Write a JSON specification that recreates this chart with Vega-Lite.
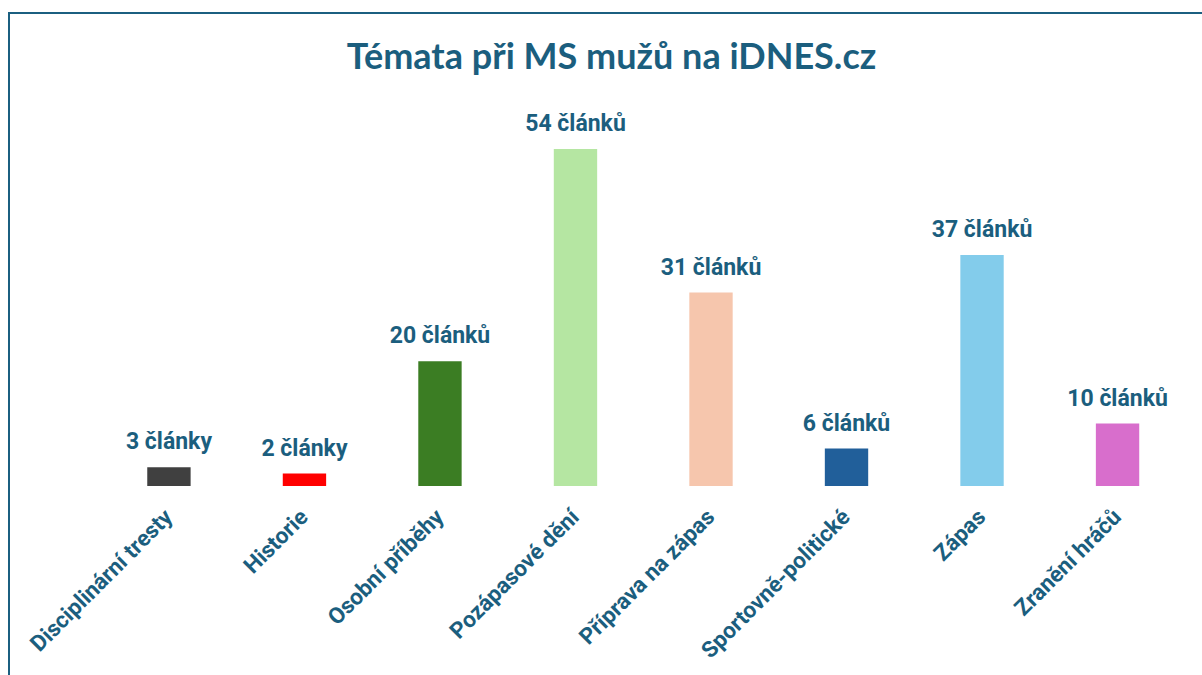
{
  "$schema": "https://vega.github.io/schema/vega-lite/v6.json",
  "autosize": "none",
  "width": 1205,
  "height": 677,
  "padding": {"left": 9, "top": 13, "right": 0, "bottom": 0},
  "background": "white",
  "config": {
    "view": {"stroke": "#1b5f80", "strokeWidth": 2},
    "font": "Roboto"
  },
  "title": {
    "text": "Témata při MS mužů na iDNES.cz",
    "anchor": "middle",
    "orient": "top",
    "baseline": "alphabetic",
    "offset": -92,
    "fontSize": 36,
    "font": "Lato",
    "fontWeight": "bold",
    "color": "#1b5e7e"
  },
  "data": {
    "values": [
      {"tema": "Disciplinární tresty", "pocet": 3, "popisek": "3 články"},
      {"tema": "Historie", "pocet": 2, "popisek": "2 články"},
      {"tema": "Osobní příběhy", "pocet": 20, "popisek": "20 článků"},
      {"tema": "Pozápasové dění", "pocet": 54, "popisek": "54 článků"},
      {"tema": "Příprava na zápas", "pocet": 31, "popisek": "31 článků"},
      {"tema": "Sportovně-politické", "pocet": 6, "popisek": "6 článků"},
      {"tema": "Zápas", "pocet": 37, "popisek": "37 článků"},
      {"tema": "Zranění hráčů", "pocet": 10, "popisek": "10 článků"}
    ]
  },
  "encoding": {
    "x": {
      "field": "tema",
      "type": "nominal",
      "sort": null,
      "scale": {"paddingInner": 0.68, "paddingOuter": 0.786, "align": 0.649},
      "axis": {
        "orient": "bottom",
        "offset": -204,
        "domain": false,
        "ticks": false,
        "title": null,
        "labelAngle": -45,
        "labelAlign": "right",
        "labelBaseline": "middle",
        "labelFontSize": 22.5,
        "labelFontWeight": "bold",
        "labelColor": "#1b5e7e",
        "labelPadding": 27,
        "labelLimit": 0,
        "labelFont": "Roboto"
      }
    },
    "y": {
      "field": "pocet",
      "type": "quantitative",
      "scale": {"domain": [-32.69, 75.79], "nice": false, "zero": false},
      "axis": null
    }
  },
  "layer": [
    {
      "mark": {"type": "bar"},
      "encoding": {
        "color": {
          "field": "tema",
          "type": "nominal",
          "sort": null,
          "scale": {
            "domain": ["Disciplinární tresty", "Historie", "Osobní příběhy", "Pozápasové dění", "Příprava na zápas", "Sportovně-politické", "Zápas", "Zranění hráčů"],
            "range": ["#404040", "#ff0000", "#3b7d23", "#b5e6a2", "#f6c6ad", "#215f9a", "#83cceb", "#d86ecc"]
          },
          "legend": null
        },
        "y2": {"datum": 0}
      }
    },
    {
      "mark": {"type": "text", "baseline": "alphabetic", "dy": -18, "fontSize": 23, "fontWeight": "bold", "color": "#1b5e7e", "font": "Roboto"},
      "encoding": {"text": {"field": "popisek"}}
    },
    {
      "data": {"values": [{"a": 1}]},
      "mark": {"type": "rule", "color": "#d9d9d9", "strokeWidth": 2, "xOffset": -67, "x2Offset": 67},
      "encoding": {
        "x": {"datum": "Disciplinární tresty"},
        "x2": {"datum": "Zranění hráčů"},
        "y": {"datum": 0}
      }
    }
  ]
}
